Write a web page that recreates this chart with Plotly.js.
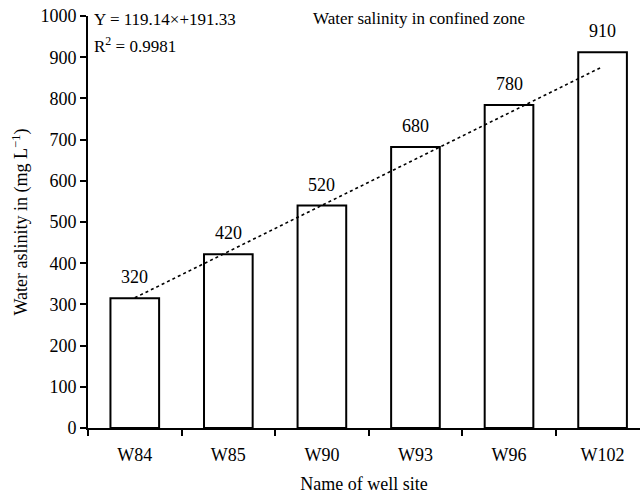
<!DOCTYPE html>
<html>
<head>
<meta charset="utf-8">
<script src="https://cdn.plot.ly/plotly-3.0.1.min.js"></script>
<style>html,body{margin:0;padding:0;background:#fff;}#chart{width:640px;height:497px;}</style>
</head>
<body>
<div id="chart"></div>
<script>
var wells = ["W84", "W85", "W90", "W93", "W96", "W102"];
var salinity = [315, 422, 540, 682, 784, 912];
var barLabels = ["320", "420", "520", "680", "780", "910"];
var trendWells = ["W84", "W102"];
var trendValues = [316, 877];
var yTicks = [0, 100, 200, 300, 400, 500, 600, 700, 800, 900, 1000];

var FONT = "Liberation Serif";

var bars = {
  type: "bar", x: wells, y: salinity, width: 0.52,
  marker: {color: "#ffffff", line: {color: "#000000", width: 2}},
  hoverinfo: "skip", showlegend: false
};
var trend = {
  type: "scatter", mode: "lines", x: trendWells, y: trendValues,
  line: {color: "#000000", width: 1.6, dash: "dot"},
  hoverinfo: "skip", showlegend: false
};

var annotations = wells.map(function (w, i) {
  return {x: w, y: salinity[i], text: barLabels[i], showarrow: false,
    xanchor: "center", yanchor: "bottom", yshift: 9,
    font: {family: FONT, size: 18, color: "#000"}};
});
annotations.push({xref: "paper", yref: "paper", x: 0.5, y: 1.0, xanchor: "center", yanchor: "middle",
  text: "Water salinity in confined zone", showarrow: false, xshift: 55, yshift: -2,
  font: {family: FONT, size: 17, color: "#000"}});
annotations.push({xref: "paper", yref: "paper", x: 0, y: 1.0, xanchor: "left", yanchor: "middle",
  text: "Y = 119.14×+191.33", showarrow: false, xshift: 4, yshift: -3,
  font: {family: FONT, size: 17, color: "#000"}});
annotations.push({xref: "paper", yref: "paper", x: 0, y: 1.0, xanchor: "left", yanchor: "middle",
  text: "R<sup>2</sup> = 0.9981", showarrow: false, xshift: 4, yshift: -29,
  font: {family: FONT, size: 17, color: "#000"}});

var layout = {
  width: 640, height: 497,
  margin: {l: 88, r: 0, t: 16, b: 69},
  paper_bgcolor: "#ffffff", plot_bgcolor: "#ffffff",
  font: {family: FONT, size: 17, color: "#000"},
  bargap: 0.48,
  xaxis: {
    type: "category", range: [-0.5, 5.4],
    showline: true, linecolor: "#000", linewidth: 2,
    ticks: "outside", tickson: "boundaries", ticklen: 6, tickwidth: 2, tickcolor: "#000",
    ticklabelstandoff: 9,
    showgrid: false, zeroline: false,
    tickfont: {family: FONT, size: 18, color: "#000"},
    title: {text: "Name of well site", font: {family: FONT, size: 18, color: "#000"}, standoff: 14}
  },
  yaxis: {
    range: [0, 1000], tickvals: yTicks, ticktext: yTicks.map(String),
    showline: true, linecolor: "#000", linewidth: 2,
    ticks: "outside", ticklen: 6, tickwidth: 2, tickcolor: "#000",
    showgrid: false, zeroline: false,
    tickfont: {family: FONT, size: 18, color: "#000"},
    title: {text: "Water aslinity in (mg L<sup>−1</sup>)", font: {family: FONT, size: 18, color: "#000"}, standoff: 8}
  },
  annotations: annotations
};

Plotly.newPlot("chart", [bars, trend], layout, {displayModeBar: false, staticPlot: true});
</script>
</body>
</html>
